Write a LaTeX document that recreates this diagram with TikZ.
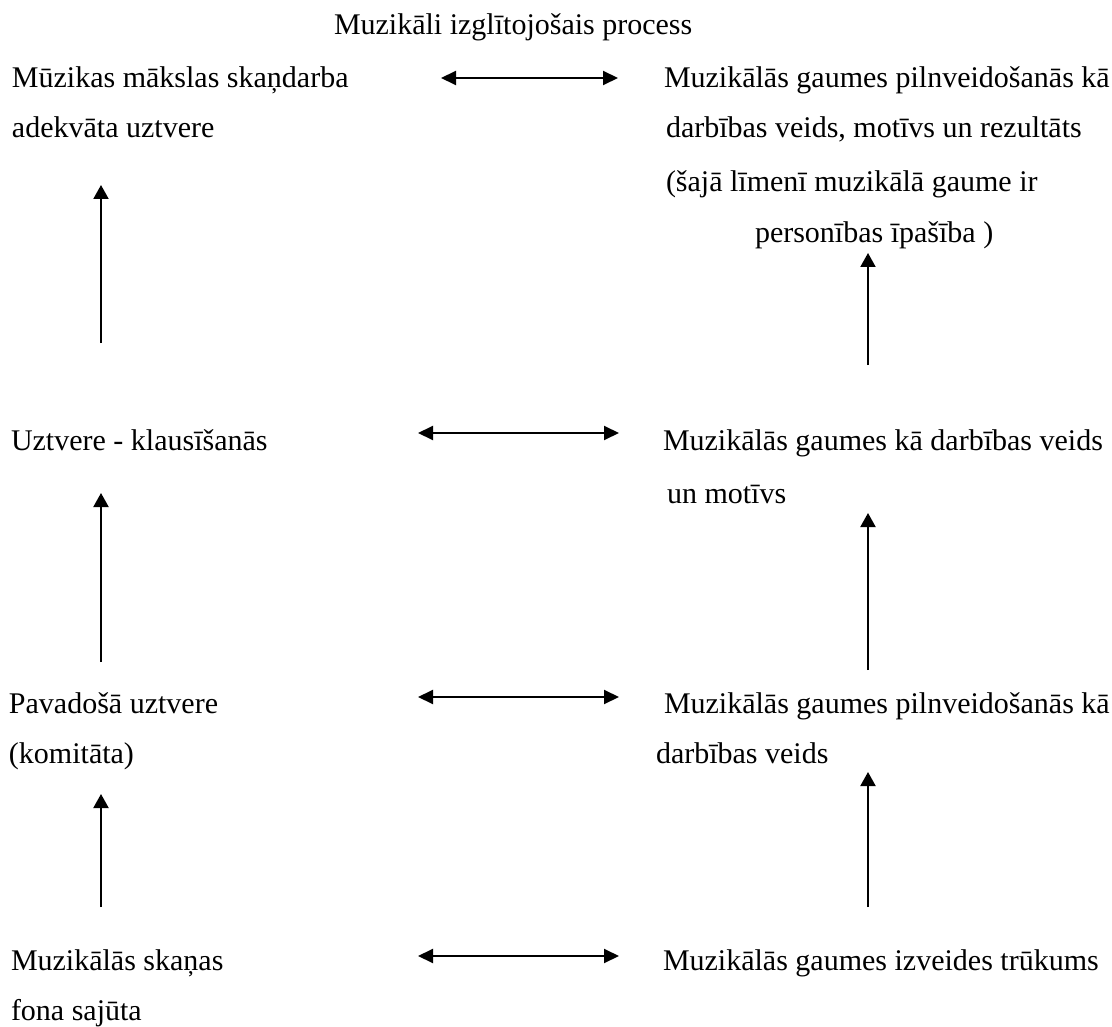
\documentclass[tikz,border=0pt]{standalone}
\usepackage{fontspec}
\setmainfont{Liberation Serif}
\usetikzlibrary{arrows.meta}
\begin{document}
\begin{tikzpicture}[x=1pt,y=-1pt,
  txt/.style={anchor=base west,inner sep=0pt,outer sep=0pt,font=\fontsize{30}{36}\selectfont},
  link/.style={line width=2pt,-{Triangle[width=15pt,length=14pt]}},
  twoway/.style={line width=2pt,{Triangle[width=14pt,length=15pt]}-{Triangle[width=14pt,length=15pt]}}]
\useasboundingbox (0,0) rectangle (1112,1027);

% title
\node[txt] (title) at (334,35) {Muzikāli izglītojošais process};

% left column
\node[txt] (l1a) at (12,88)  {Mūzikas mākslas skaņdarba};
\node[txt] (l1b) at (12,138) {adekvāta uztvere};
\node[txt] (l2a) at (11,450) {Uztvere - klausīšanās};
\node[txt] (l3a) at (9,713)  {Pavadošā uztvere};
\node[txt] (l3b) at (9,763)  {(komitāta)};
\node[txt] (l4a) at (11,970) {Muzikālās skaņas};
\node[txt] (l4b) at (11,1020){fona sajūta};

% right column
\node[txt] (r1a) at (664,88)  {Muzikālās gaumes pilnveidošanās kā};
\node[txt] (r1b) at (666,138) {darbības veids, motīvs un rezultāts};
\node[txt] (r1c) at (666,192) {(šajā līmenī muzikālā gaume ir};
\node[txt] (r1d) at (755,243) {personības īpašība )};
\node[txt] (r2a) at (663,450) {Muzikālās gaumes kā darbības veids};
\node[txt] (r2b) at (667,503) {un motīvs};
\node[txt] (r3a) at (664,713) {Muzikālās gaumes pilnveidošanās kā};
\node[txt] (r3b) at (656,763) {darbības veids};
\node[txt] (r4a) at (663,970) {Muzikālās gaumes izveides trūkums};

% arrow end points
\coordinate (h1l) at (441,78);  \coordinate (h1r) at (618,78);
\coordinate (h2l) at (418,433); \coordinate (h2r) at (619,433);
\coordinate (h3l) at (418,697); \coordinate (h3r) at (619,697);
\coordinate (h4l) at (418,956); \coordinate (h4r) at (619,956);

\coordinate (v1s) at (101,343); \coordinate (v1e) at (101,185);
\coordinate (v2s) at (101,662); \coordinate (v2e) at (101,493);
\coordinate (v3s) at (101,907); \coordinate (v3e) at (101,794);
\coordinate (w1s) at (868,365); \coordinate (w1e) at (868,253);
\coordinate (w2s) at (868,670); \coordinate (w2e) at (868,513);
\coordinate (w3s) at (868,907); \coordinate (w3e) at (868,772);

% two-way links between the columns
\draw[twoway] (h1l) -- (h1r);
\draw[twoway] (h2l) -- (h2r);
\draw[twoway] (h3l) -- (h3r);
\draw[twoway] (h4l) -- (h4r);

% upward links
\draw[link] (v1s) -- (v1e);
\draw[link] (v2s) -- (v2e);
\draw[link] (v3s) -- (v3e);
\draw[link] (w1s) -- (w1e);
\draw[link] (w2s) -- (w2e);
\draw[link] (w3s) -- (w3e);
\end{tikzpicture}
\end{document}
